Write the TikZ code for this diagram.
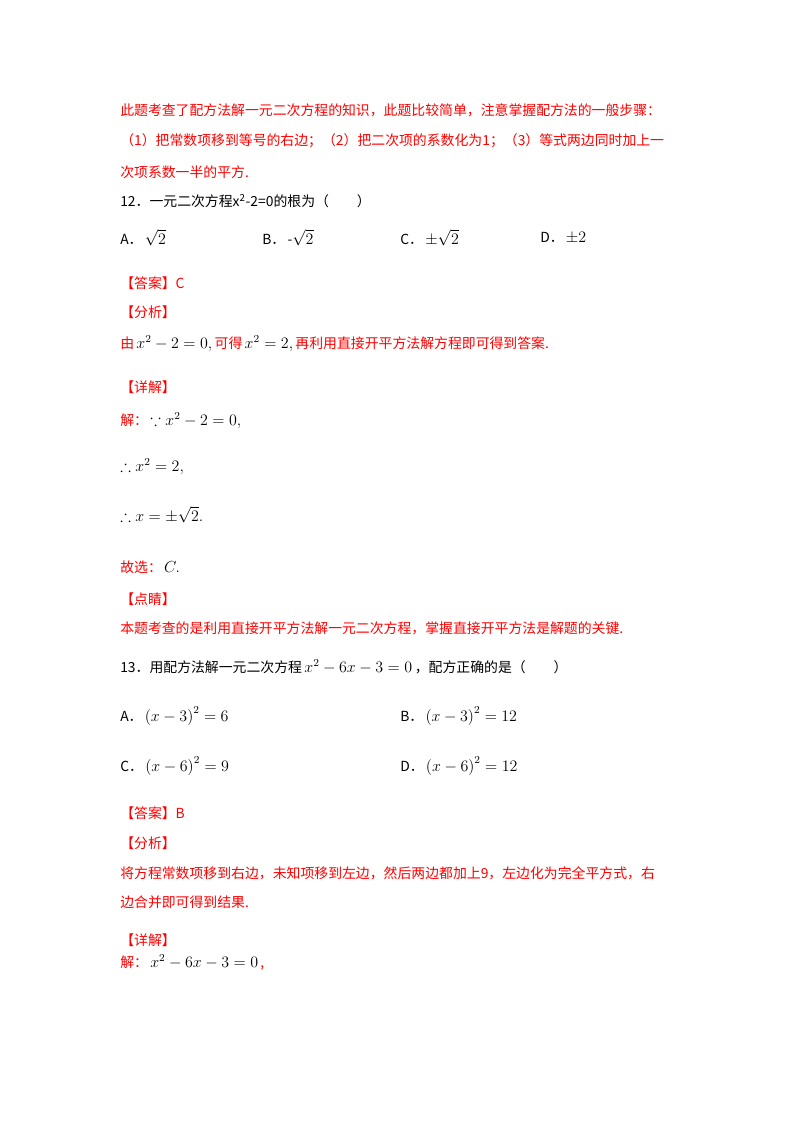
\documentclass[tikz,border=0pt]{standalone}
\usepackage{amssymb}
\usepackage{fontspec}
\setmainfont{Liberation Serif}
\newfontfamily\cjk{Noto Sans CJK SC}
\begin{document}
\begin{tikzpicture}[x=0.75pt,y=-0.75pt,
  t/.style={anchor=west,inner sep=0pt,font=\cjk\fontsize{10.4}{12}\selectfont},
  r/.style={t,text=red}]
\useasboundingbox (0,0) rectangle (800,1132);
\node[r] (l1) at (120,110) {此题考查了配方法解一元二次方程的知识，此题比较简单，注意掌握配方法的一般步骤：};
\node[r] (l2) at (120,141) {（1）把常数项移到等号的右边；（2）把二次项的系数化为1；（3）等式两边同时加上一};
\node[r] (l3) at (120,172) {次项系数一半的平方.};
\node[t] (q12) at (120,201) {12．一元二次方程\textit{x}\textsuperscript{2}-2=0的根为（　　）};
\node[t] (a12) at (120,238) {A．\,\normalfont\large$\sqrt{2}$};
\node[t] (b12) at (262,238) {B．\,-\normalfont\large$\sqrt{2}$};
\node[t] (c12) at (400,238) {C．\,\normalfont\large$\pm\sqrt{2}$};
\node[t] (d12) at (540,238) {D．\,\normalfont\large$\pm 2$};
\node[r] (ans12) at (120,283) {【答案】C};
\node[r] (an12) at (120,312) {【分析】};
\node[r] (an12t) at (120,344) {由\,{\normalfont\large\color{black}$x^2-2=0,$}\,可得\,{\normalfont\large\color{black}$x^2=2,$}\,再利用直接开平方法解方程即可得到答案.};
\node[r] (xj12) at (120,387) {【详解】};
\node[r] (s1) at (120,421) {解：\,{\normalfont\large\color{black}$\because x^2-2=0,$}};
\node[t] (s2) at (120,467) {\normalfont\large$\therefore x^2=2,$};
\node[t] (s3) at (120,515) {\normalfont\large$\therefore x=\pm\sqrt{2}.$};
\node[r] (s4) at (120,567) {故选：\,{\normalfont\large\color{black}$C.$}};
\node[r] (dq12) at (120,599) {【点睛】};
\node[r] (dq12t) at (120,628) {本题考查的是利用直接开平方法解一元二次方程，掌握直接开平方法是解题的关键.};
\node[t] (q13) at (120,667) {13．用配方法解一元二次方程\,\normalfont\large$x^2-6x-3=0$\,\cjk\fontsize{10.4}{12}\selectfont，配方正确的是（　　）};
\node[t] (a13) at (120,716) {A．\,\normalfont\large$\left(x-3\right)^2=6$};
\node[t] (b13) at (400,716) {B．\,\normalfont\large$\left(x-3\right)^2=12$};
\node[t] (c13) at (120,766) {C．\,\normalfont\large$\left(x-6\right)^2=9$};
\node[t] (d13) at (400,766) {D．\,\normalfont\large$\left(x-6\right)^2=12$};
\node[r] (ans13) at (120,813) {【答案】B};
\node[r] (an13) at (120,843) {【分析】};
\node[r] (an13a) at (120,873) {将方程常数项移到右边，未知项移到左边，然后两边都加上9，左边化为完全平方式，右};
\node[r] (an13b) at (120,902) {边合并即可得到结果.};
\node[r] (xj13) at (120,940) {【详解】};
\node[r] (s13) at (120,962) {解：\,{\normalfont\large\color{black}$x^2-6x-3=0$}\,,};
\end{tikzpicture}
\end{document}
